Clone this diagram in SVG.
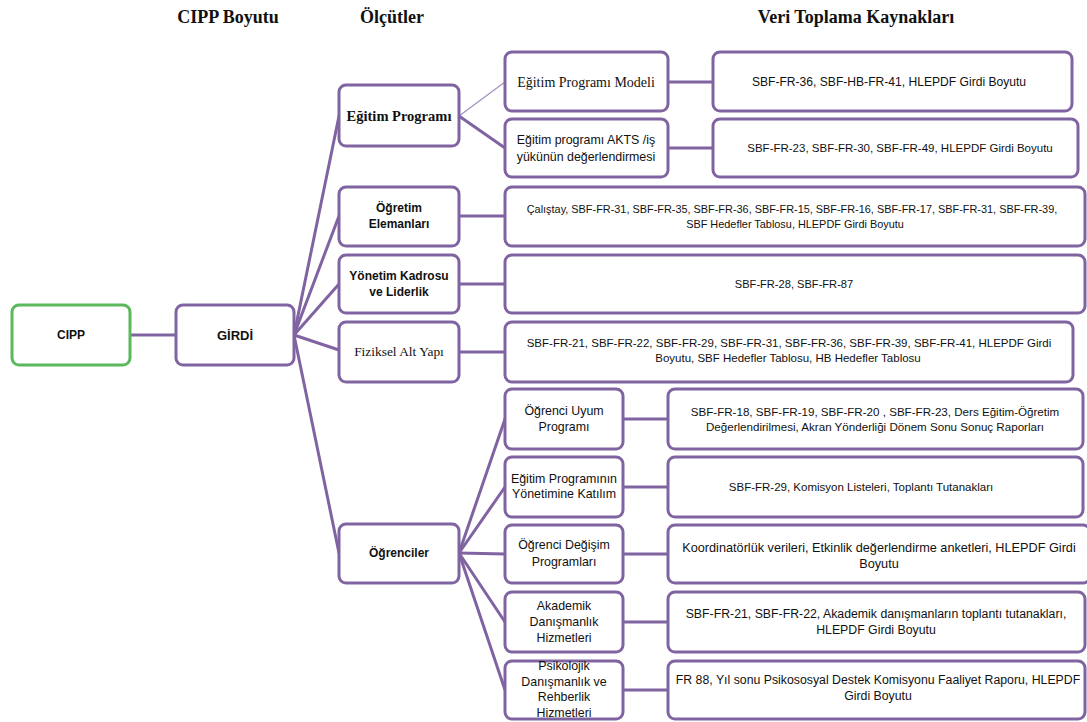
<svg xmlns="http://www.w3.org/2000/svg" width="1087" height="722" viewBox="0 0 1087 722">
<style>
.box{fill:#fff;stroke:#8064a2;stroke-width:3}
.green{stroke:#5cb85c}
.conn{stroke:#8064a2;stroke-width:3;fill:none;stroke-linecap:round}
.thin{stroke:#a592c4;stroke-width:1.3}
text{fill:#111;text-anchor:middle}
.hdr{font-family:"Liberation Serif",serif;font-weight:bold;font-size:18px}
.sb{font-family:"Liberation Sans",sans-serif;font-weight:bold;font-size:12px}
.sr{font-family:"Liberation Sans",sans-serif;font-size:12.4px}
.src{font-family:"Liberation Sans",sans-serif;font-size:11.5px}
.serb{font-family:"Liberation Serif",serif;font-weight:bold;font-size:14.5px}
.ser{font-family:"Liberation Serif",serif;font-size:14px}
</style>
<rect width="1087" height="722" fill="#fff"/>
<g id="headers">
<text class="hdr" x="228" y="23">CIPP Boyutu</text>
<text class="hdr" x="392" y="23">Ölçütler</text>
<text class="hdr" x="856" y="23">Veri Toplama Kaynakları</text>
</g>
<g id="connectors">
<line class="conn" x1="130" y1="335" x2="176" y2="335"/>
<line class="conn" x1="294" y1="335" x2="339" y2="116"/>
<line class="conn" x1="294" y1="335" x2="339" y2="216"/>
<line class="conn" x1="294" y1="335" x2="339" y2="284"/>
<line class="conn" x1="294" y1="335" x2="339" y2="350"/>
<line class="conn" x1="294" y1="335" x2="339" y2="553"/>
<line class="conn thin" x1="459" y1="116" x2="505" y2="82"/>
<line class="conn" x1="459" y1="116" x2="505" y2="148"/>
<line class="conn" x1="668" y1="82" x2="713" y2="82"/>
<line class="conn" x1="668" y1="148" x2="713" y2="148"/>
<line class="conn" x1="459" y1="216" x2="505" y2="216"/>
<line class="conn" x1="459" y1="284" x2="505" y2="284"/>
<line class="conn" x1="459" y1="352" x2="505" y2="352"/>
<line class="conn" x1="459" y1="553" x2="505" y2="419"/>
<line class="conn" x1="459" y1="553" x2="505" y2="487"/>
<line class="conn" x1="459" y1="553" x2="505" y2="554"/>
<line class="conn" x1="459" y1="553" x2="505" y2="622"/>
<line class="conn" x1="459" y1="553" x2="505" y2="690"/>
<line class="conn" x1="623" y1="419" x2="668" y2="419"/>
<line class="conn" x1="623" y1="487" x2="668" y2="487"/>
<line class="conn" x1="623" y1="554" x2="668" y2="554"/>
<line class="conn" x1="623" y1="622" x2="668" y2="622"/>
<line class="conn" x1="623" y1="690" x2="668" y2="690"/>
</g>
<g id="cipp"><rect class="box green" x="12" y="305" width="118" height="60" rx="7"/><text class="sb" x="71" y="339">CIPP</text></g>
<g id="girdi"><rect class="box" x="176" y="305" width="118" height="60" rx="7"/><text class="sb" x="235" y="340" style="font-size:13px">GİRDİ</text></g>
<g id="egitim-programi"><rect class="box" x="339" y="85" width="120" height="61" rx="7"/><text class="serb" x="399" y="121">Eğitim Programı</text></g>
<g id="ogretim-elemanlari"><rect class="box" x="339" y="187" width="120" height="59" rx="7"/><text class="sb" x="399" y="212">Öğretim</text><text class="sb" x="399" y="228">Elemanları</text></g>
<g id="yonetim"><rect class="box" x="339" y="255" width="120" height="58" rx="7"/><text class="sb" x="399" y="280">Yönetim Kadrosu</text><text class="sb" x="399" y="296">ve Liderlik</text></g>
<g id="fiziksel"><rect class="box" x="339" y="322" width="120" height="60" rx="7"/><text class="ser" x="399" y="356" style="font-size:13.4px">Fiziksel Alt Yapı</text></g>
<g id="ogrenciler"><rect class="box" x="339" y="524" width="120" height="59" rx="7"/><text class="sb" x="399" y="557">Öğrenciler</text></g>
<g id="ep-modeli"><rect class="box" x="505" y="52" width="163" height="59" rx="7"/><text class="ser" x="586" y="87">Eğitim Programı Modeli</text></g>
<g id="ep-akts"><rect class="box" x="505" y="119" width="163" height="58" rx="7"/><text class="sr" x="586" y="144">Eğitim programı AKTS /iş</text><text class="sr" x="586" y="161">yükünün değerlendirmesi</text></g>
<g id="src-modeli"><rect class="box" x="713" y="52" width="359" height="59" rx="7"/><text class="src" x="889" y="86" style="font-size:12.1px">SBF-FR-36, SBF-HB-FR-41, HLEPDF Girdi Boyutu</text></g>
<g id="src-akts"><rect class="box" x="713" y="119" width="365" height="58" rx="7"/><text class="src" x="900" y="152">SBF-FR-23, SBF-FR-30, SBF-FR-49, HLEPDF Girdi Boyutu</text></g>
<g id="src-ogretim"><rect class="box" x="505" y="187" width="580" height="59" rx="7"/><text class="src" x="792" y="213" style="font-size:10.9px">Çalıştay, SBF-FR-31, SBF-FR-35, SBF-FR-36, SBF-FR-15, SBF-FR-16, SBF-FR-17, SBF-FR-31, SBF-FR-39,</text><text class="src" x="795" y="228" style="font-size:10.9px">SBF Hedefler Tablosu, HLEPDF Girdi Boyutu</text></g>
<g id="src-yonetim"><rect class="box" x="505" y="255" width="580" height="58" rx="7"/><text class="src" x="794" y="288" style="font-size:11.1px">SBF-FR-28, SBF-FR-87</text></g>
<g id="src-fiziksel"><rect class="box" x="505" y="322" width="568" height="60" rx="7"/><text class="src" x="789" y="347">SBF-FR-21, SBF-FR-22, SBF-FR-29, SBF-FR-31, SBF-FR-36, SBF-FR-39, SBF-FR-41, HLEPDF Girdi</text><text class="src" x="788" y="362">Boyutu, SBF Hedefler Tablosu, HB Hedefler Tablosu</text></g>
<g id="uyum"><rect class="box" x="505" y="389" width="118" height="60" rx="7"/><text class="sr" x="564" y="415">Öğrenci Uyum</text><text class="sr" x="564" y="431">Programı</text></g>
<g id="katilim"><rect class="box" x="505" y="457" width="118" height="60" rx="7"/><text class="sr" x="564" y="483">Eğitim Programının</text><text class="sr" x="564" y="498">Yönetimine Katılım</text></g>
<g id="degisim"><rect class="box" x="505" y="525" width="118" height="58" rx="7"/><text class="sr" x="564" y="549">Öğrenci Değişim</text><text class="sr" x="564" y="566">Programları</text></g>
<g id="akademik"><rect class="box" x="505" y="592" width="118" height="60" rx="7"/><text class="sr" x="564" y="610">Akademik</text><text class="sr" x="564" y="626">Danışmanlık</text><text class="sr" x="564" y="642">Hizmetleri</text></g>
<g id="psikolojik"><rect class="box" x="505" y="661" width="118" height="58" rx="7"/><text class="sr" x="564" y="670">Psikolojik</text><text class="sr" x="564" y="686">Danışmanlık ve</text><text class="sr" x="564" y="701">Rehberlik</text><text class="sr" x="564" y="717">Hizmetleri</text></g>
<g id="src-uyum"><rect class="box" x="668" y="389" width="415" height="60" rx="7"/><text class="src" x="875" y="416" style="font-size:11.6px">SBF-FR-18, SBF-FR-19, SBF-FR-20 , SBF-FR-23, Ders Eğitim-Öğretim</text><text class="src" x="875" y="431" style="font-size:11.6px">Değerlendirilmesi, Akran Yönderliği Dönem Sonu Sonuç Raporları</text></g>
<g id="src-katilim"><rect class="box" x="668" y="457" width="415" height="60" rx="7"/><text class="src" x="861" y="491">SBF-FR-29, Komisyon Listeleri, Toplantı Tutanakları</text></g>
<g id="src-degisim"><rect class="box" x="668" y="525" width="422" height="58" rx="7"/><text class="src" x="879" y="552" style="font-size:12.7px">Koordinatörlük verileri, Etkinlik değerlendirme anketleri, HLEPDF Girdi</text><text class="src" x="879" y="568" style="font-size:12.7px">Boyutu</text></g>
<g id="src-akademik"><rect class="box" x="668" y="592" width="417" height="60" rx="7"/><text class="src" x="876" y="618" style="font-size:12.3px">SBF-FR-21, SBF-FR-22, Akademik danışmanların toplantı tutanakları,</text><text class="src" x="876" y="634" style="font-size:12.3px">HLEPDF Girdi Boyutu</text></g>
<g id="src-psikolojik"><rect class="box" x="668" y="661" width="417" height="58" rx="7"/><text class="src" x="878" y="684" style="font-size:12.3px">FR 88, Yıl sonu Psikososyal Destek Komisyonu Faaliyet Raporu, HLEPDF</text><text class="src" x="878" y="700" style="font-size:12.3px">Girdi Boyutu</text></g>
</svg>
